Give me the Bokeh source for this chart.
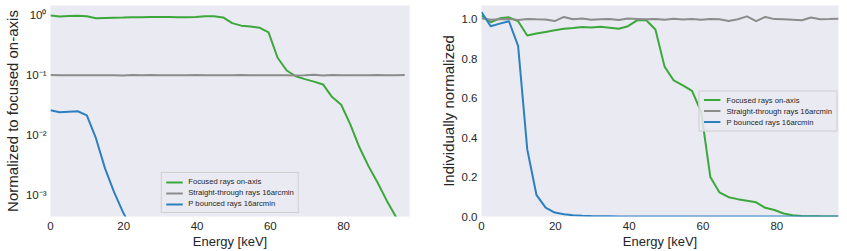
from bokeh.plotting import figure
from bokeh.models import Range1d, FixedTicker, CustomJSTickFormatter, NumeralTickFormatter
from bokeh.layouts import row
from bokeh.embed import file_html
from bokeh.resources import INLINE

# ---------------- data ----------------
energy_kev = [0.0, 2.48, 4.96, 7.44, 9.92, 12.4, 14.88, 17.36, 19.84, 22.32,
              24.8, 27.28, 29.76, 32.24, 34.72, 37.2, 39.68, 42.16, 44.64, 47.12,
              49.6, 52.08, 54.56, 57.04, 59.52, 62.0, 64.48, 66.96, 69.44, 71.92,
              74.4, 76.88, 79.36, 81.84, 84.32, 86.8, 89.28, 91.76, 94.24, 96.72]

# left panel: normalized to focused on-axis (log scale)
focused_rel = [1.0, 0.966, 0.985, 0.99, 0.97, 0.90, 0.91, 0.918, 0.925, 0.933,
               0.937, 0.942, 0.94, 0.943, 0.938, 0.933, 0.946, 0.975, 0.975, 0.929,
               0.745, 0.676, 0.652, 0.625, 0.52, 0.196, 0.12, 0.096, 0.086, 0.078,
               0.07, 0.043, 0.032, 0.015, 0.0062, 0.003, 0.0016, 0.0008, 0.00043, 0.0002]
straight_rel = [0.1005, 0.0998, 0.1, 0.1002, 0.0997, 0.1002, 0.1, 0.0999, 0.0991, 0.1012,
                0.1, 0.1004, 0.0998, 0.1, 0.1001, 0.0997, 0.1004, 0.1002, 0.1, 0.1001,
                0.0998, 0.1003, 0.0999, 0.1001, 0.0998, 0.1002, 0.1, 0.0991, 0.1, 0.1015,
                0.0991, 0.1012, 0.1001, 0.1, 0.0998, 0.0995, 0.1009, 0.1, 0.1001, 0.1003]
pbounce_rel = [0.0258, 0.024, 0.0245, 0.0249, 0.0213, 0.0088, 0.00275, 0.0011, 0.0005, 0.00026,
               0.00014, 0.00008, 0.00005, 0.00003, 0.00002, 0.000012, 0.000008, 0.000005, 0.000003, 0.000002,
               0.0000015, 0.000001, 0.000001, 0.000001, 0.000001, 0.000001, 0.000001, 0.000001, 0.000001, 0.000001,
               0.000001, 0.000001, 0.000001, 0.000001, 0.000001, 0.000001, 0.000001, 0.000001, 0.000001, 0.000001]

# right panel: individually normalized
focused_ind = [1.02, 0.985, 1.005, 1.01, 0.99, 0.918, 0.928, 0.936, 0.944, 0.952,
               0.956, 0.961, 0.959, 0.962, 0.957, 0.952, 0.965, 0.995, 0.995, 0.948,
               0.76, 0.69, 0.665, 0.637, 0.53, 0.2, 0.122, 0.098, 0.088, 0.08,
               0.072, 0.044, 0.033, 0.015, 0.0062, 0.003, 0.0016, 0.0008, 0.00044, 0.0002]
straight_ind = [1.005, 0.998, 1.0, 1.002, 0.997, 1.002, 1.0, 0.999, 0.991, 1.012,
                1.0, 1.004, 0.998, 1.0, 1.001, 0.997, 1.004, 1.002, 1.0, 1.001,
                0.998, 1.003, 0.999, 1.001, 0.998, 1.002, 1.0, 0.991, 1.0, 1.015,
                0.991, 1.012, 1.001, 1.0, 0.998, 0.995, 1.009, 1.0, 1.001, 1.003]
pbounce_ind = [1.037, 0.965, 0.978, 0.99, 0.865, 0.34, 0.11, 0.045, 0.02, 0.011,
               0.006, 0.0035, 0.002, 0.0012, 0.0008, 0.0005, 0.0003, 0.0002, 0.00012, 0.00008,
               0.00006, 0.00004, 0.00004, 0.00004, 0.00004, 0.00004, 0.00004, 0.00004, 0.00004, 0.00004,
               0.00004, 0.00004, 0.00004, 0.00004, 0.00004, 0.00004, 0.00004, 0.00004, 0.00004, 0.00004]

series_labels = ["Focused rays on-axis", "Straight-through rays 16arcmin", "P bounced rays 16arcmin"]
x_ticks = [0, 20, 40, 60, 80]
log_ticks = [0.001, 0.01, 0.1, 1.0]
lin_ticks = [0.0, 0.2, 0.4, 0.6, 0.8, 1.0]

# ---------------- style ----------------
GREEN = "#3ca83c"
GRAY = "#8c8c8c"
BLUE = "#2d80c0"
BG = "#EAEAF2"
TXT = "#262626"
FONT = "Liberation Sans"


def style(p, ylabel):
    p.background_fill_color = BG
    p.border_fill_color = "white"
    p.outline_line_color = None
    p.grid.visible = False
    for ax in (p.xaxis[0], p.yaxis[0]):
        ax.axis_line_color = None
        ax.major_tick_line_color = None
        ax.minor_tick_line_color = None
        ax.major_tick_out = 0
        ax.minor_tick_out = 0
        ax.major_label_text_font = FONT
        ax.major_label_text_font_size = "11.5px"
        ax.major_label_text_color = TXT
        ax.axis_label_text_font = FONT
        ax.axis_label_text_font_style = "normal"
        ax.axis_label_text_color = TXT
    p.xaxis.axis_label = "Energy [keV]"
    p.xaxis.axis_label_text_font_size = "13px"
    p.xaxis.major_label_standoff = 5
    p.xaxis.axis_label_standoff = 1
    p.xaxis.ticker = FixedTicker(ticks=x_ticks)
    p.yaxis.axis_label = ylabel
    p.yaxis.axis_label_text_font_size = "15px"
    p.yaxis.major_label_standoff = 4
    p.yaxis.axis_label_standoff = 2


def style_legend(p, loc, margin):
    lg = p.legend[0]
    lg.location = loc
    lg.margin = margin
    lg.padding = 4
    lg.spacing = 2
    lg.label_text_font = FONT
    lg.label_text_font_size = "7.7px"
    lg.label_text_color = TXT
    lg.label_height = 8
    lg.glyph_height = 8
    lg.glyph_width = 17
    lg.label_standoff = 6
    lg.background_fill_color = BG
    lg.background_fill_alpha = 0.85
    lg.border_line_color = "#cccccc"
    lg.border_line_alpha = 0.9


H = 251

# left panel
p1 = figure(width=425, height=H, y_axis_type="log",
            x_range=Range1d(0, 98), y_range=Range1d(4.3e-4, 1.47),
            output_backend="svg", toolbar_location=None,
            min_border_top=5, min_border_bottom=0, min_border_left=0, min_border_right=16)
style(p1, "Normalized to focused on-axis")
p1.yaxis.ticker = FixedTicker(ticks=log_ticks)
p1.yaxis.formatter = CustomJSTickFormatter(code="""
const e = Math.round(Math.log10(tick));
const sup = {'-': '\u207b', '0': '\u2070', '1': '\u00b9', '2': '\u00b2', '3': '\u00b3',
             '4': '\u2074', '5': '\u2075', '6': '\u2076', '7': '\u2077', '8': '\u2078', '9': '\u2079'};
return '10' + String(e).split('').map(c => sup[c]).join('');
""")
p1.line(energy_kev, focused_rel, color=GREEN, line_width=2, legend_label=series_labels[0])
p1.line(energy_kev, straight_rel, color=GRAY, line_width=2, legend_label=series_labels[1])
p1.line(energy_kev, pbounce_rel, color=BLUE, line_width=2, legend_label=series_labels[2])
style_legend(p1, "bottom_center", 3)

# right panel
p2 = figure(width=422, height=H,
            x_range=Range1d(0, 96.72), y_range=Range1d(0, 1.07),
            output_backend="svg", toolbar_location=None,
            min_border_top=5, min_border_bottom=0, min_border_left=56, min_border_right=9)
style(p2, "Individually normalized")
p2.yaxis.ticker = FixedTicker(ticks=lin_ticks)
p2.yaxis.formatter = NumeralTickFormatter(format="0.0")
p2.line(energy_kev, focused_ind, color=GREEN, line_width=2, legend_label=series_labels[0])
p2.line(energy_kev, straight_ind, color=GRAY, line_width=2, legend_label=series_labels[1])
p2.line(energy_kev, pbounce_ind, color=BLUE, line_width=2, legend_label=series_labels[2])
style_legend(p2, "center_right", 1)

layout = row(p1, p2)
open("out.html", "w").write(file_html(layout, INLINE))
